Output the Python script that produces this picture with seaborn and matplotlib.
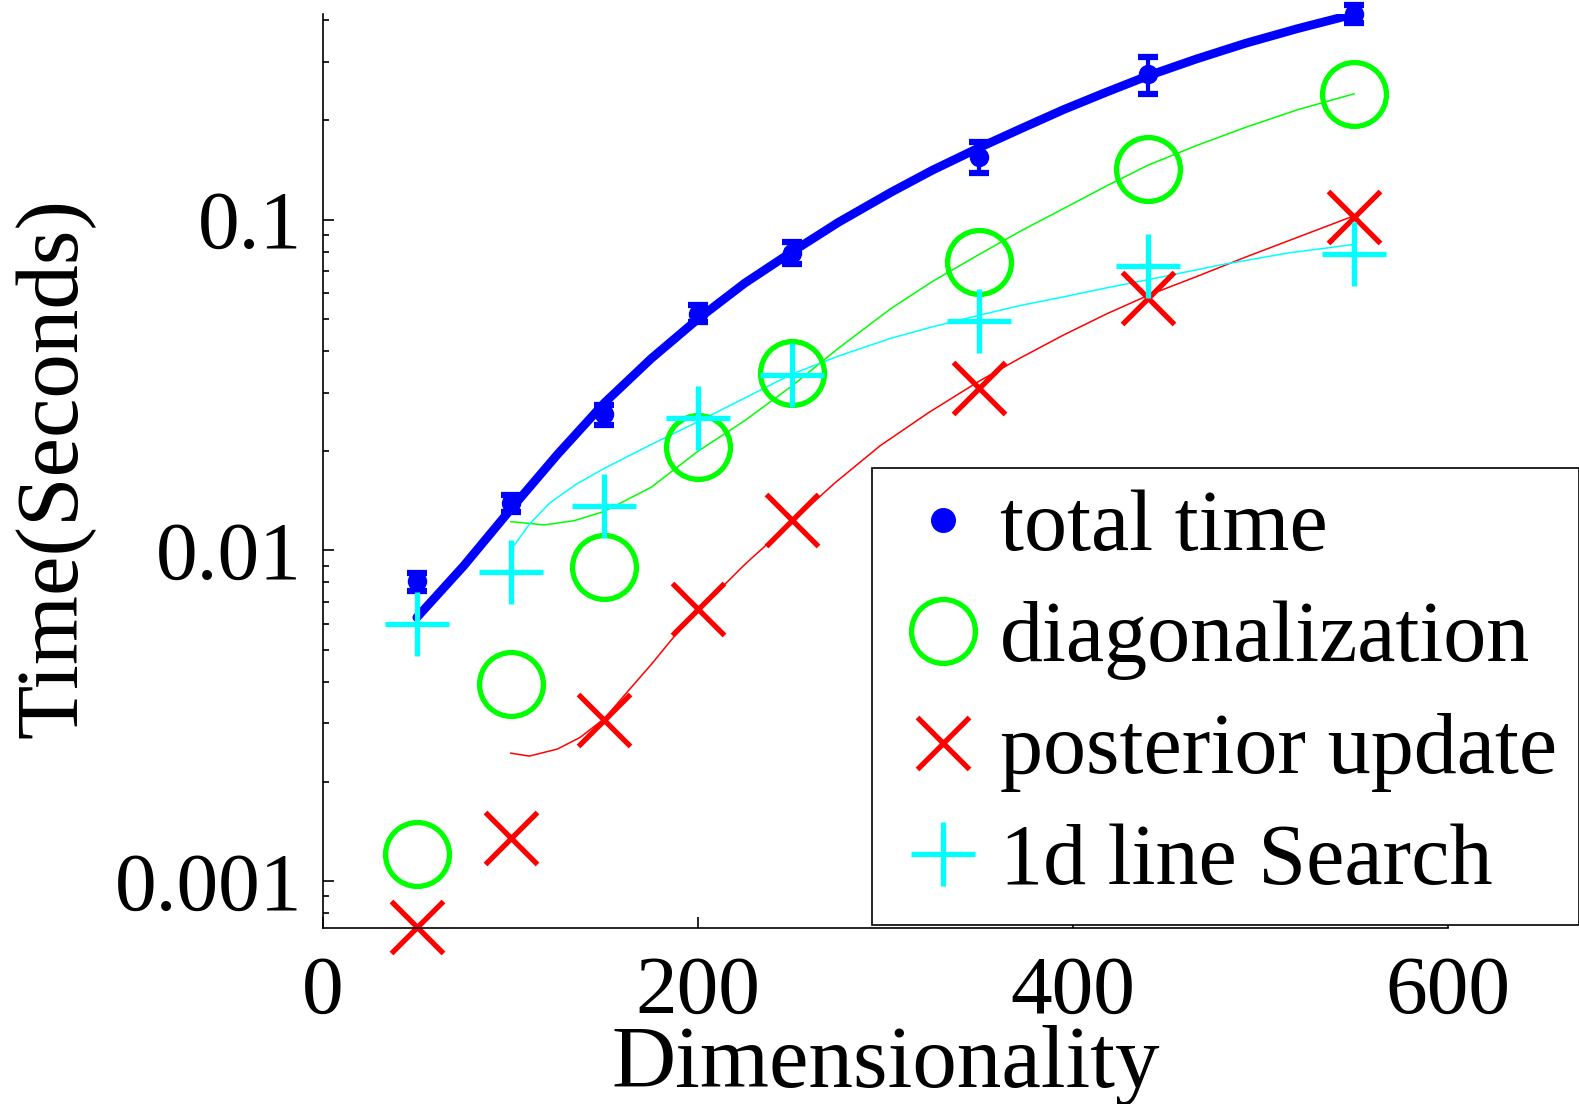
"""
Timing of the algorithm steps against dimensionality (log y axis).
"""

import matplotlib
matplotlib.use('Agg')
import matplotlib.pyplot as plt
import seaborn as sns
from matplotlib.ticker import LogLocator, NullFormatter

# Measured points
dims = [50, 100, 150, 200, 250, 350, 440, 550]
total_time = [0.00806, 0.0139, 0.0258, 0.052, 0.0795, 0.155, 0.275, 0.419]
total_err = [0.0005, 0.0008, 0.0018, 0.003, 0.006, 0.017, 0.035, 0.025]
diag_time = [0.00121, 0.00396, 0.0089, 0.0205, 0.0344, 0.0742, 0.1426, 0.239]
post_time = [0.00073, 0.00135, 0.00308, 0.00664, 0.01236, 0.0309, 0.058, 0.1018]
search_time = [0.00601, 0.00859, 0.01361, 0.0251, 0.0339, 0.0495, 0.0726, 0.0785]

# Fitted curves
fit_total_x = [50, 75, 100, 125, 150, 175, 200, 225, 250, 275, 303, 325, 350,
               372, 395, 418, 440, 466, 492, 520, 550]
fit_total_y = [0.00627, 0.00898, 0.0133, 0.0195, 0.0279, 0.038, 0.0501, 0.0643,
               0.0798, 0.0982, 0.121, 0.141, 0.165, 0.188, 0.215, 0.243, 0.272,
               0.306, 0.341, 0.378, 0.418]
fit_diag_x = [100, 118, 134, 150, 175, 200, 225, 250, 275, 303, 325, 350, 372,
              395, 418, 440, 466, 492, 520, 550]
fit_diag_y = [0.01222, 0.01194, 0.0123, 0.01312, 0.01552, 0.01995, 0.0247,
              0.0314, 0.0409, 0.0539, 0.065, 0.0785, 0.0923, 0.108, 0.1265,
              0.146, 0.1675, 0.190, 0.215, 0.24]
fit_post_x = [100, 110, 125, 137, 150, 162, 175, 187, 200, 225, 250, 273, 297,
              323, 350, 372, 395, 418, 440, 466, 492, 520, 550]
fit_post_y = [0.00244, 0.00239, 0.00251, 0.00272, 0.0031, 0.00372, 0.00452,
              0.00547, 0.00656, 0.00908, 0.0122, 0.016, 0.0207, 0.0261, 0.0325,
              0.0382, 0.0448, 0.0519, 0.059, 0.0673, 0.077, 0.0885, 0.1027]
fit_search_x = [100, 110, 121, 135, 150, 175, 200, 225, 250, 275, 303, 325, 350,
                372, 395, 418, 440, 479, 515, 550]
fit_search_y = [0.0100, 0.0120, 0.01393, 0.01585, 0.0177, 0.0209, 0.0245, 0.0289,
                0.0341, 0.0387, 0.0438, 0.0474, 0.0514, 0.055, 0.0584, 0.0622,
                0.0658, 0.073, 0.0793, 0.0841]

labels = ['total time', 'diagonalization', 'posterior update', '1d line Search']
y_ticks = [0.001, 0.01, 0.1]
y_tick_labels = ['0.001', '0.01', '0.1']
x_ticks = [0, 200, 400, 600]

sns.set_theme(style='white')
plt.rcParams['font.family'] = ['Liberation Serif', 'DejaVu Serif']
plt.rcParams['text.color'] = 'black'

fig = plt.figure(figsize=(15.79, 11.04), dpi=100)
ax = fig.add_axes([0.2046, 0.1597, 0.7125, 0.8276])

# Fit lines
sns.lineplot(x=fit_total_x, y=fit_total_y, ax=ax, color='#0000ff', linewidth=6.3,
             estimator=None, sort=False, legend=False)
sns.lineplot(x=fit_diag_x, y=fit_diag_y, ax=ax, color='#00ff00', linewidth=1.1,
             estimator=None, sort=False, legend=False)
sns.lineplot(x=fit_post_x, y=fit_post_y, ax=ax, color='#ff0000', linewidth=1.1,
             estimator=None, sort=False, legend=False)
sns.lineplot(x=fit_search_x, y=fit_search_y, ax=ax, color='#00ffff', linewidth=1.1,
             estimator=None, sort=False, legend=False)

# Markers
ax.errorbar(dims, total_time, yerr=total_err, fmt='none', ecolor='#0000ff',
            elinewidth=3, capsize=7, capthick=4.5, clip_on=False)
h_total, = ax.plot(dims, total_time, linestyle='none', marker='o', markersize=13,
                   color='#0000ff', clip_on=False)
h_diag, = ax.plot(dims, diag_time, linestyle='none', marker='o', markersize=46,
                  markerfacecolor='none', markeredgecolor='#00ff00',
                  markeredgewidth=3.8, clip_on=False)
h_post, = ax.plot(dims, post_time, linestyle='none', marker='x', markersize=38,
                  markeredgecolor='#ff0000', markeredgewidth=3.8, clip_on=False)
h_search, = ax.plot(dims, search_time, linestyle='none', marker='+', markersize=46,
                    markeredgecolor='#00ffff', markeredgewidth=3.8, clip_on=False)

ax.set_yscale('log')
ax.set_xlim(0, 600)
ax.set_ylim(0.000724, 0.418)

ax.set_yticks(y_ticks)
ax.set_yticklabels(y_tick_labels)
ax.yaxis.set_minor_locator(LogLocator(base=10, subs=range(2, 10)))
ax.yaxis.set_minor_formatter(NullFormatter())
ax.set_xticks(x_ticks)
ax.set_xticklabels([str(v) for v in x_ticks])

sns.despine(ax=ax)
for side in ['left', 'bottom']:
    ax.spines[side].set_color('black')
    ax.spines[side].set_linewidth(1.2)

ax.tick_params(axis='both', which='both', direction='in', color='black',
               left=True, bottom=True, labelsize=60, labelcolor='black')
ax.tick_params(axis='both', which='major', length=8, width=1.2)
ax.tick_params(axis='y', which='minor', length=4.5, width=1.2)
ax.tick_params(axis='y', pad=15)
ax.tick_params(axis='x', pad=20)

ax.set_xlabel('Dimensionality', fontsize=64, color='black', va='center')
ax.xaxis.set_label_coords(0.5, -0.151)
ax.set_ylabel('Time(Seconds)', fontsize=64, color='black', va='center')
ax.yaxis.set_label_coords(-0.238, 0.503)

leg = ax.legend([h_total, h_diag, h_post, h_search], labels,
                loc='upper left', bbox_to_anchor=(872 / 1579, 1 - 468 / 1104),
                bbox_transform=fig.transFigure, fontsize=62, frameon=True,
                fancybox=False, edgecolor='black', framealpha=1, borderpad=0.25,
                handlelength=1.15, handletextpad=0.09, labelspacing=0.37,
                borderaxespad=0, numpoints=1)
leg.get_frame().set_linewidth(1.2)
for text in leg.get_texts():
    text.set_color('black')
# legend dot is a bit bigger than the plotted dots
leg.legend_handles[0].set_markersize(17)

fig.savefig('out.png', dpi=100)
